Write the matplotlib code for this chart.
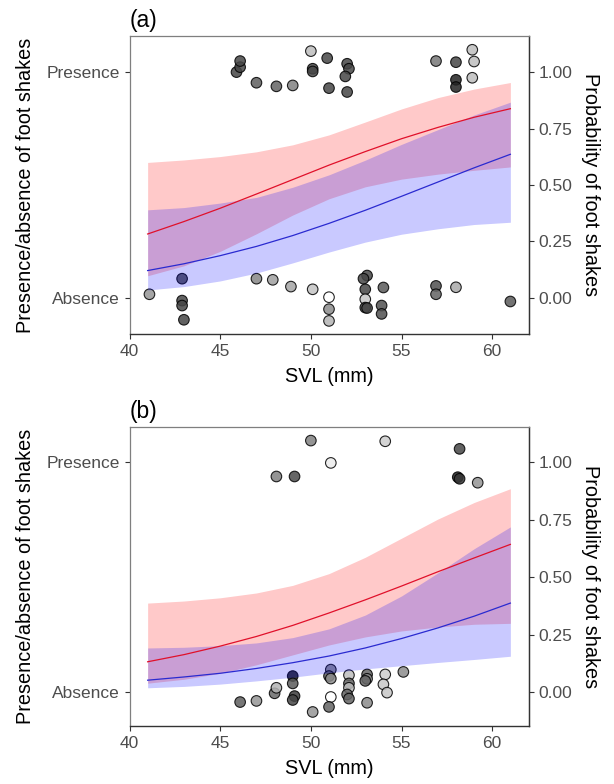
import matplotlib
matplotlib.use("Agg")
from matplotlib import pyplot as plt

plt.rcParams['font.family'] = ['Liberation Sans', 'DejaVu Sans']

# fitted curves, read at every 2 mm of SVL
svl_fit = [41, 43, 45, 47, 49, 51, 53, 55, 57, 59, 61]

# panel (a)
a_red = [0.283, 0.338, 0.397, 0.460, 0.524, 0.588, 0.648, 0.705, 0.755, 0.800, 0.838]
a_red_hi = [0.600, 0.611, 0.626, 0.647, 0.678, 0.722, 0.779, 0.837, 0.887, 0.925, 0.954]
a_red_lo = [0.098, 0.142, 0.206, 0.284, 0.367, 0.439, 0.492, 0.526, 0.548, 0.565, 0.580]
a_blue = [0.121, 0.151, 0.187, 0.228, 0.276, 0.330, 0.388, 0.450, 0.513, 0.576, 0.636]
a_blue_hi = [0.390, 0.400, 0.420, 0.445, 0.490, 0.545, 0.610, 0.680, 0.745, 0.810, 0.867]
a_blue_lo = [0.035, 0.050, 0.075, 0.110, 0.155, 0.203, 0.247, 0.282, 0.306, 0.325, 0.335]

# panel (b)
b_red = [0.133, 0.164, 0.201, 0.243, 0.291, 0.345, 0.402, 0.462, 0.524, 0.584, 0.643]
b_red_hi = [0.388, 0.397, 0.411, 0.432, 0.465, 0.516, 0.587, 0.670, 0.753, 0.825, 0.885]
b_red_lo = [0.040, 0.057, 0.083, 0.120, 0.163, 0.206, 0.241, 0.267, 0.284, 0.296, 0.300]
b_blue = [0.053, 0.067, 0.083, 0.104, 0.129, 0.158, 0.193, 0.234, 0.280, 0.331, 0.388]
b_blue_hi = [0.193, 0.196, 0.203, 0.215, 0.238, 0.276, 0.336, 0.419, 0.519, 0.624, 0.719]
b_blue_lo = [0.020, 0.026, 0.036, 0.050, 0.066, 0.085, 0.102, 0.116, 0.130, 0.143, 0.157]

# observations (jittered), panel (a)
a_x = [45.9, 46.1, 46.1, 47.0, 48.1, 49.0, 50.0, 50.1, 50.1, 50.9, 51.0, 52.0, 52.1, 51.9, 52.0,
       56.9, 58.0, 58.0, 58.0, 58.9, 59.0, 58.9,
       41.1, 42.9, 42.9, 42.9, 43.0, 47.0, 47.9, 48.9, 50.1, 51.0, 51.0, 51.0, 53.1, 52.9, 53.0,
       53.0, 53.0, 53.1, 54.0, 53.9, 53.9, 56.9, 56.9, 58.0, 61.0]
a_y = [1.000, 1.022, 1.049, 0.953, 0.937, 0.941, 1.093, 1.015, 1.003, 1.062, 0.929, 1.037, 1.015, 0.981, 0.912,
       1.049, 1.044, 0.966, 0.934, 1.099, 1.047, 0.975,
       0.016, 0.085, -0.012, -0.034, -0.097, 0.085, 0.080, 0.050, 0.038, 0.003, -0.050, -0.102, 0.099, 0.085, 0.038,
       -0.006, -0.043, -0.045, 0.046, -0.034, -0.071, 0.053, 0.016, 0.047, -0.016]
a_grey = [70, 70, 70, 95, 100, 130, 190, 70, 70, 70, 70, 70, 70, 70, 70,
          120, 70, 35, 35, 190, 190, 190,
          150, 70, 70, 70, 70, 135, 160, 165, 195, 255, 140, 180, 70, 70, 70,
          200, 70, 70, 90, 80, 80, 80, 100, 170, 90]

# observations (jittered), panel (b)
b_x = [50.0, 54.1, 51.1, 48.1, 49.1, 58.2, 58.1, 58.2, 59.2,
       46.1, 47.0, 48.0, 48.1, 49.0, 49.0, 49.1, 49.0, 50.1, 51.1, 51.0, 51.1, 51.1, 51.0,
       52.1, 52.1, 52.1, 52.0, 52.1, 53.1, 53.1, 53.0, 53.1, 54.1, 54.0, 54.2, 55.1]
b_y = [1.094, 1.091, 0.997, 0.938, 0.938, 1.058, 0.935, 0.928, 0.911,
       -0.042, -0.037, -0.004, 0.020, 0.071, 0.039, -0.016, -0.033, -0.085, 0.099, 0.071, 0.060, -0.020, -0.063,
       0.075, 0.039, 0.020, -0.009, -0.027, 0.078, 0.059, 0.050, -0.045, 0.078, 0.035, -0.001, 0.089]
b_grey = [130, 205, 235, 130, 75, 70, 35, 55, 150,
          95, 150, 105, 180, 20, 90, 60, 70, 150, 130, 95, 140, 255, 100,
          190, 100, 190, 100, 100, 100, 140, 100, 140, 205, 200, 200, 140]

xticks = [40, 45, 50, 55, 60]
prob_ticks = [0, 0.25, 0.5, 0.75, 1]
prob_labels = ['0.00', '0.25', '0.50', '0.75', '1.00']

fig = plt.figure(figsize=(6.14, 7.84), dpi=100)
ax_a = fig.add_axes([129.5 / 614, 1 - 334 / 784, 399 / 614, 298 / 784])
ax_b = fig.add_axes([129.5 / 614, 1 - 726 / 784, 399 / 614, 299 / 784])

panels = [
    (ax_a, '(a)', a_red, a_red_hi, a_red_lo, a_blue, a_blue_hi, a_blue_lo, a_x, a_y, a_grey, (-0.16, 1.16)),
    (ax_b, '(b)', b_red, b_red_hi, b_red_lo, b_blue, b_blue_hi, b_blue_lo, b_x, b_y, b_grey, (-0.146, 1.153)),
]

for ax, tag, red, red_hi, red_lo, blue, blue_hi, blue_lo, px, py, grey, ylim in panels:
    fills = [(g / 255, g / 255, g / 255) for g in grey]
    ax.scatter(px, py, s=58, c=fills, edgecolors='black', linewidths=0.8, alpha=0.85, zorder=2)
    ax.fill_between(svl_fit, red_lo, red_hi, color='red', alpha=0.21, lw=0, zorder=3)
    ax.fill_between(svl_fit, blue_lo, blue_hi, color='blue', alpha=0.21, lw=0, zorder=3)
    ax.plot(svl_fit, red, color='#e0102a', lw=0.9, zorder=4)
    ax.plot(svl_fit, blue, color='#2a2ad0', lw=0.9, zorder=4)

    ax.set_xlim(40, 62)
    ax.set_ylim(*ylim)
    ax.set_xticks(xticks)
    ax.set_yticks([0, 1])
    ax.set_yticklabels(['Absence', 'Presence'])
    ax.tick_params(labelsize=12.5, labelcolor='#4d4d4d', color='#333333', length=3.5, width=0.8)
    ax.set_xlabel('SVL (mm)', fontsize=14.3, labelpad=6)
    ax.set_ylabel('Presence/absence of foot shakes', fontsize=14.3, labelpad=8)
    for side in ['left', 'top']:
        ax.spines[side].set_color('#7f7f7f')
        ax.spines[side].set_linewidth(0.9)
    for side in ['bottom', 'right']:
        ax.spines[side].set_color('#333333')
        ax.spines[side].set_linewidth(1.0)

    sec = ax.secondary_yaxis('right')
    sec.set_yticks(prob_ticks)
    sec.set_yticklabels(prob_labels)
    sec.tick_params(labelsize=12.5, labelcolor='#4d4d4d', color='#333333', length=3.5, width=0.8)
    sec.spines['right'].set_color('#333333')
    sec.set_ylabel('Probability of foot shakes', fontsize=14.3, rotation=270, labelpad=20)

    ax.text(0, 1.015, tag, transform=ax.transAxes, fontsize=16.5, ha='left', va='bottom')

fig.savefig('out.png', dpi=100)
